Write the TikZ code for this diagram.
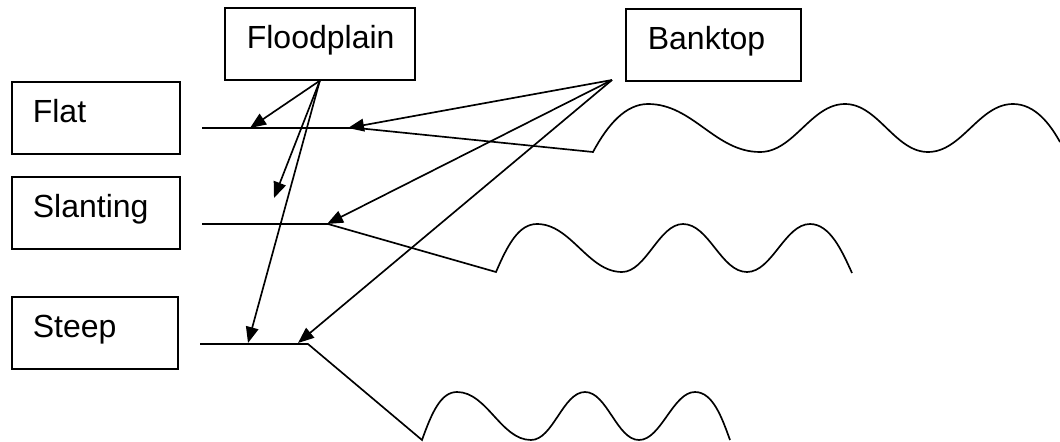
\documentclass[tikz,border=0pt]{standalone}
\usepackage{fontspec}
\setmainfont{Liberation Sans}
\usetikzlibrary{arrows.meta}
\begin{document}
\begin{tikzpicture}[x=0.75pt,y=-0.75pt,line width=1.25pt,
  box/.style={draw,anchor=north west,inner ysep=0pt,text height=30.5pt,text depth=23.5pt,
    align=left,font=\fontsize{24}{28}\selectfont},
  arr/.style={-{Triangle[length=12pt,width=9.5pt]}},
  ground/.style={line join=miter}]
\useasboundingbox (0,0) rectangle (1060,442);
% boxes
\node[box,inner xsep=15.75pt,text width=94.5pt] (flat) at (11,81) {Flat};
\node[box,inner xsep=15.75pt,text width=94.5pt] (slant) at (11,176) {Slanting};
\node[box,inner xsep=15.75pt,text width=93pt] (steep) at (11,296) {Steep};
\node[box,inner xsep=16.5pt,text width=109.5pt] (fp) at (224,7) {Floodplain};
\node[box,inner xsep=16.5pt,text width=98.25pt] (bt) at (625,8) {Banktop};
% coordinates
\coordinate (btsrc) at (612,80);
\coordinate (fa) at (202,128);
\coordinate (fb) at (357,128);
\coordinate (fc) at (593,152);
\coordinate (sa) at (202,224);
\coordinate (sb) at (328,224);
\coordinate (sc) at (496,272);
\coordinate (ta) at (200,344);
\coordinate (tb) at (308,344);
\coordinate (tc) at (422,440);
\coordinate (fpflat) at (250,128);
\coordinate (fpair) at (274,198);
\coordinate (fpsteep) at (248,343);
\coordinate (btflat) at (348,128);
\coordinate (btslant) at (327,224);
\coordinate (btsteep) at (298,343);
% flat profile
\draw[ground] (fa) -- (fb) -- (fc)
  .. controls +(15,-28) and +(-22,0) .. (648,104)
  .. controls +(45,0) and +(-45,0) .. (760,152)
  .. controls +(34,0) and +(-34,0) .. (845,104)
  .. controls +(33,0) and +(-33,0) .. (928,152)
  .. controls +(34,0) and +(-34,0) .. (1013,104)
  .. controls +(22,0) and +(-10,-18) .. (1060,142);
% slanting profile
\draw[ground] (sa) -- (sb) -- (sc)
  .. controls +(12,-28) and +(-18,0) .. (537,224)
  .. controls +(34,0) and +(-34,0) .. (622,272)
  .. controls +(24,0) and +(-24,0) .. (683,224)
  .. controls +(26,0) and +(-26,0) .. (747,272)
  .. controls +(25,0) and +(-25,0) .. (810,224)
  .. controls +(20,0) and +(-10,-22) .. (852,273);
% steep profile
\draw[ground] (ta) -- (tb) -- (tc)
  .. controls +(10,-28) and +(-16,0) .. (457,392)
  .. controls +(30,0) and +(-30,0) .. (531,440)
  .. controls +(22,0) and +(-22,0) .. (585,392)
  .. controls +(22,0) and +(-22,0) .. (639,440)
  .. controls +(22,0) and +(-22,0) .. (695,392)
  .. controls +(18,0) and +(-8,-22) .. (730,440);
% arrows
\draw[arr] (fp.south) -- (fpflat);
\draw[arr] (fp.south) -- (fpair);
\draw[arr] (fp.south) -- (fpsteep);
\draw[arr] (btsrc) -- (btflat);
\draw[arr] (btsrc) -- (btslant);
\draw[arr] (btsrc) -- (btsteep);
\end{tikzpicture}
\end{document}
